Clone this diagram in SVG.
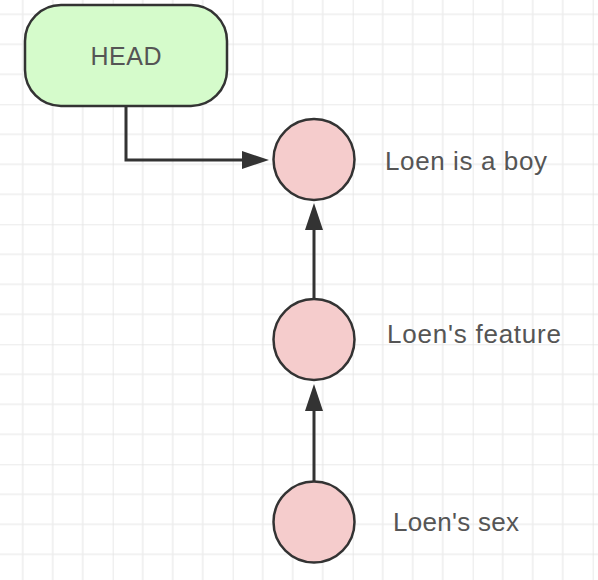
<svg xmlns="http://www.w3.org/2000/svg" width="598" height="580" viewBox="0 0 598 580">
  <style>
    .node-rect { fill: #d5fbcb; stroke: #333333; stroke-width: 2.5; }
    .node-circle { fill: #f5cccc; stroke: #333333; stroke-width: 2.5; }
    .label { font-family: "Liberation Sans", Arial, sans-serif; font-size: 25px; fill: #555555; }
    .side { font-size: 26px; }
    .edge { fill: none; stroke: #333333; stroke-width: 3; }
    .minor { stroke: #eeeeee; stroke-width: 1.6; }
    .major { stroke: #e4e4e4; stroke-width: 1.6; }
  </style>
  <defs>
    <marker id="arrow" markerUnits="userSpaceOnUse" viewBox="0 0 27 18" refX="0" refY="9" markerWidth="27" markerHeight="18" orient="auto">
      <path d="M0,0 L27,9 L0,18 Z" fill="#333333"/>
    </marker>
    <pattern id="grid" patternUnits="userSpaceOnUse" x="-7.3" y="-15.7" width="120" height="120">
      <path class="minor" d="M30,0 V120 M60,0 V120 M90,0 V120 M0,30 H120 M0,60 H120 M0,90 H120"/>
      <path class="major" d="M0,0 V120 M0,0 H120"/>
    </pattern>
  </defs>
  <rect width="598" height="580" fill="#ffffff"/>
  <rect width="598" height="580" fill="url(#grid)"/>

  <g id="connectors">
    <path class="edge" d="M126,106 V160 H242" marker-end="url(#arrow)"/>
    <path class="edge" d="M314,481 V411" marker-end="url(#arrow)"/>
    <path class="edge" d="M314,299 V230" marker-end="url(#arrow)"/>
  </g>

  <g id="head">
    <rect class="node-rect" x="25" y="5" width="202" height="101" rx="36" ry="36"/>
    <text class="label" x="126" y="65" text-anchor="middle" textLength="71" lengthAdjust="spacing">HEAD</text>
  </g>
  <g id="commit1">
    <circle class="node-circle" cx="314" cy="159.5" r="40.5"/>
    <text class="label side" x="385" y="170" textLength="162" lengthAdjust="spacing">Loen is a boy</text>
  </g>
  <g id="commit2">
    <circle class="node-circle" cx="314" cy="339.5" r="40.5"/>
    <text class="label side" x="387" y="343" textLength="174" lengthAdjust="spacing">Loen's feature</text>
  </g>
  <g id="commit3">
    <circle class="node-circle" cx="314" cy="522" r="40.5"/>
    <text class="label side" x="393" y="531" textLength="126" lengthAdjust="spacing">Loen's sex</text>
  </g>
</svg>
